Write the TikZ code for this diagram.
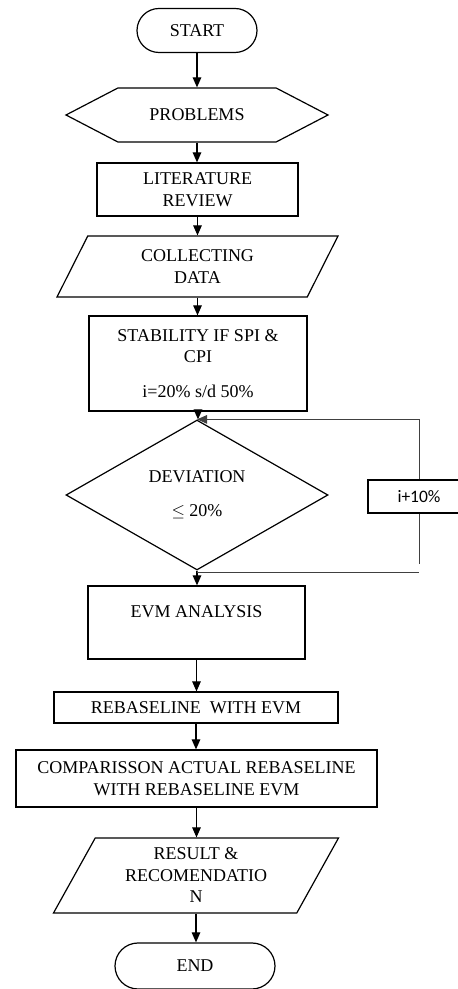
\documentclass[tikz,border=0pt]{standalone}
\usepackage{fontspec}
\setmainfont{Liberation Serif}
\newfontfamily\calibrifont{Carlito}
\usetikzlibrary{shapes.geometric,shapes.misc,shapes.symbols,arrows.meta}

\begin{document}
\begin{tikzpicture}[x=1pt, y=1pt, line width=1.2pt,
    every node/.style={font=\fontsize{18}{21.5}\selectfont, align=center, inner sep=0pt},
    term/.style={draw, rounded rectangle, minimum width=#1, minimum height=44},
    box/.style={draw, rectangle, minimum width=#1},
    hexa/.style={draw, signal, signal to=east and west, signal pointer angle=55,
        minimum width=262, minimum height=54},
    io/.style={draw, trapezium, trapezium left angle=#1, trapezium right angle=180-#1,
        trapezium stretches body},
    dec/.style={draw, diamond, minimum width=262, minimum height=150},
    flow/.style={-{Triangle[length=10pt,width=8.5pt]}},
    fb/.style={line width=1pt, draw=black!75}]
    \clip (0,0) rectangle (458,989);

    \node[term=120] (start) at (197,958.5) {START};
    \node[hexa] (prob) at (197,874) {PROBLEMS};
    \node[box=201, minimum height=53] (lit) at (197.5,799.5) {LITERATURE\\REVIEW};
    \node[io=47.4, minimum width=281, minimum height=61] (data) at (197.5,722.5) {COLLECTING\\DATA};
    \node[box=218, minimum height=95] (stab) at (198,625.5) {STABILITY IF SPI \&\\CPI\\[13pt]i=20\% s/d 50\%};
    \node[dec] (dev) at (197,494) {DEVIATION\\[12.5pt]$\leq$ 20\%};
    \node[box=102, minimum height=33, font=\calibrifont\fontsize{17.5}{20}\selectfont] (inc) at (419,492.5) {i+10\%};
    \node[box=217, minimum height=73] (evm) at (196.5,366.5) {EVM ANALYSIS\\~};
    \node[box=284, minimum height=31] (rebase) at (196,281.5) {REBASELINE \ WITH EVM};
    \node[box=361, minimum height=57] (comp) at (196.5,210.5) {COMPARISSON ACTUAL REBASELINE\\WITH REBASELINE EVM};
    \node[io=52.8, minimum width=285, minimum height=75] (result) at (196,113.5) {RESULT \&\\RECOMENDATIO\\N};
    \node[term=160, minimum height=46] (end) at (195,23) {END};

    % main flow
    \foreach \a/\b in {start/prob, prob/lit, lit/data, data/stab, stab/dev, dev/evm,
        evm/rebase, rebase/comp, comp/result, result/end}
        \draw[flow] (\a.south) -- (\a.south |- \b.north);

    % loop back with i+10%
    \coordinate (fbgap) at (419,425);
    \coordinate (fbend) at (419,416);
    \draw[fb, flow] (inc.north) |- (dev.north);
    \draw[fb] (inc.south) -- (fbgap);
    \draw[fb] (dev.south) |- (fbend);
\end{tikzpicture}
\end{document}
